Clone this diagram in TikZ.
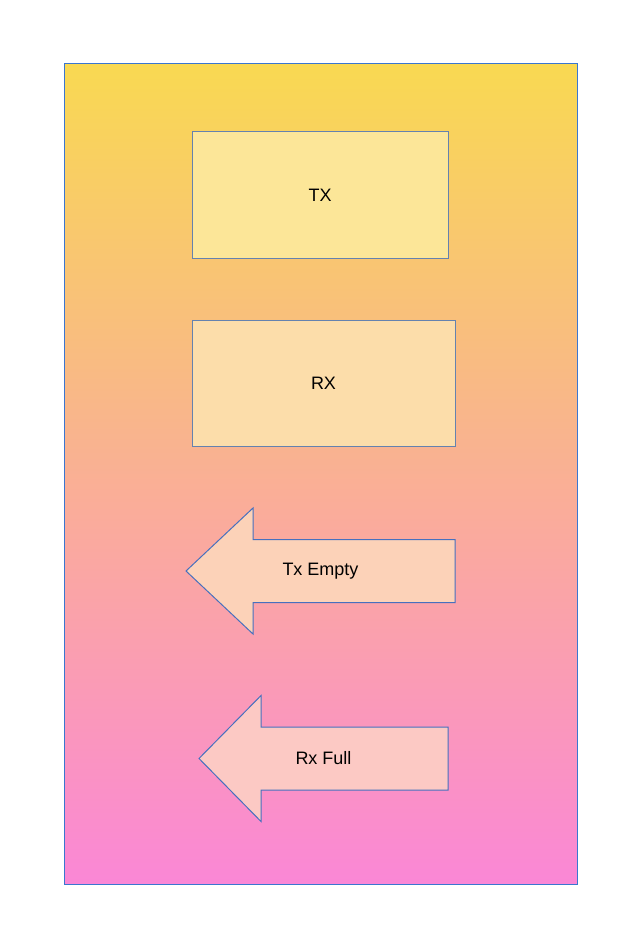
\documentclass[tikz,border=0pt]{standalone}
\usepackage{fontspec}
\setmainfont{Liberation Sans}
\usetikzlibrary{shapes.geometric}

\definecolor{frameline}{RGB}{58,118,208}
\definecolor{boxline}{RGB}{100,130,175}
\definecolor{arrowline}{RGB}{70,112,190}
\definecolor{topshade}{RGB}{249,217,82}
\definecolor{midshade}{RGB}{248,172,142}
\definecolor{botshade}{RGB}{250,135,214}
\definecolor{txfill}{RGB}{252,230,152}
\definecolor{rxfill}{RGB}{252,221,170}
\definecolor{emptyfill}{RGB}{252,210,184}
\definecolor{fullfill}{RGB}{252,201,196}

\tikzset{
	frame/.style={draw=frameline, line width=1pt, inner sep=0pt,
		top color=topshade, middle color=midshade, bottom color=botshade},
	regbox/.style={draw=boxline, line width=1pt, inner sep=0pt,
		minimum height=126pt, font=\fontsize{18}{22}\selectfont},
	flagline/.style={draw=arrowline, line width=1pt, line join=miter},
	flagtext/.style={inner sep=0pt, font=\fontsize{18}{22}\selectfont}
}

\begin{document}
\begin{tikzpicture}[x=1pt, y=-1pt]
		\useasboundingbox (0,0) rectangle (640,947);
		\def \shaft {31.5} % half height of the arrow body
		\def \head {63}    % half height of the arrow head
		
		% background panel
		\node[frame, minimum width=513pt, minimum height=820pt] (panel) at (320.5,474) {};
		
		% registers
		\node[regbox, fill=txfill, minimum width=256pt] (tx) at (320,195) {TX};
		\node[regbox, fill=rxfill, minimum width=263pt] (rx) at (323.5,383) {RX};
		
		% status flags
		\foreach \tip/\back/\right/\ymid/\id/\txt/\shade in
			{186/253/455/571/txempty/Tx Empty/emptyfill, 199/261/448/758.5/rxfull/Rx Full/fullfill}
		{
			\draw[flagline, fill=\shade] (\tip,\ymid) -- (\back,\ymid-\head) -- (\back,\ymid-\shaft)
			-- (\right,\ymid-\shaft) -- (\right,\ymid+\shaft) -- (\back,\ymid+\shaft)
			-- (\back,\ymid+\head) -- cycle;
			\node[flagtext] (\id) at ({(\tip+\right)/2},\ymid) {\txt};
		}
		\end{tikzpicture}
\end{document}
